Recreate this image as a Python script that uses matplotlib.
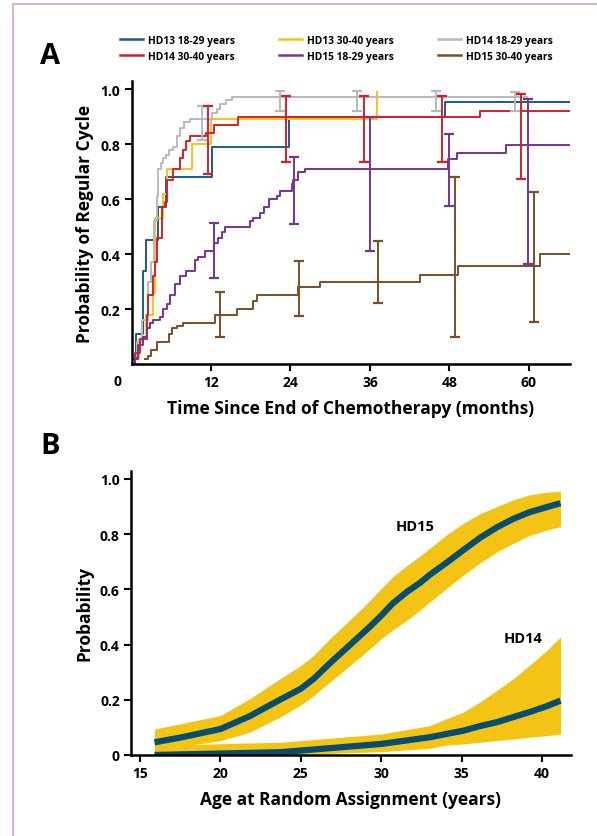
import numpy as np
import matplotlib.pyplot as plt
from matplotlib.patches import Rectangle

plt.rcParams['font.family'] = ['Open Sans', 'DejaVu Sans']
plt.rcParams['font.weight'] = 'bold'

# ---- Panel A: Kaplan-Meier style step curves (months, probability) ----
hd13_young_t = [0, 0.7, 1.7, 2.2, 4.0, 5.2, 12.1, 23.8, 47.4, 66.2]
hd13_young_v = [0.02, 0.11, 0.34, 0.45, 0.57, 0.68, 0.79, 0.90, 0.955, 0.955]

hd13_old_t = [0, 1.2, 2.2, 3.2, 3.5, 4.7, 5.4, 9.1, 12.0, 37.1]
hd13_old_v = [0.02, 0.09, 0.18, 0.26, 0.53, 0.62, 0.71, 0.80, 0.89, 0.99]

hd14_young_t = [0, 0.8, 1.6, 2.5, 3.0, 3.4, 3.8, 4.05, 4.4, 4.8, 5.2, 5.6, 6.3, 6.8,
                7.3, 7.9, 8.8, 12.1, 12.9, 13.4, 14.2, 15.2, 59.7]
hd14_young_v = [0.03, 0.08, 0.16, 0.30, 0.37, 0.52, 0.61, 0.71, 0.73, 0.75, 0.76, 0.78,
                0.79, 0.83, 0.86, 0.88, 0.89, 0.915, 0.93, 0.945, 0.96, 0.972, 0.972]

hd14_old_t = [0, 0.5, 1.3, 2.3, 2.5, 3.2, 3.6, 3.9, 4.6, 5.1, 5.4, 6.3, 7.3, 7.8, 8.2,
              8.8, 11.2, 12.4, 16.1, 52.6, 66.2]
hd14_old_v = [0.02, 0.04, 0.09, 0.18, 0.25, 0.32, 0.37, 0.46, 0.57, 0.59, 0.67, 0.71,
              0.75, 0.78, 0.81, 0.83, 0.84, 0.87, 0.90, 0.92, 0.92]

hd15_young_t = [0, 0.5, 1.0, 1.8, 2.3, 2.8, 3.2, 4.3, 4.8, 5.3, 5.8, 6.6, 7.3, 8.2, 9.6,
                10.1, 11.1, 12.4, 13.1, 13.6, 14.1, 17.9, 18.4, 19.4, 20.0, 20.7, 21.9,
                22.4, 24.2, 24.4, 25.2, 26.2, 47.8, 49.1, 56.6, 66.2]
hd15_young_v = [0.0, 0.02, 0.07, 0.10, 0.13, 0.15, 0.16, 0.17, 0.20, 0.22, 0.25, 0.29,
                0.32, 0.34, 0.38, 0.39, 0.41, 0.44, 0.46, 0.48, 0.50, 0.52, 0.53, 0.55,
                0.57, 0.60, 0.61, 0.63, 0.655, 0.67, 0.70, 0.71, 0.745, 0.767, 0.796, 0.796]

hd15_old_t = [2.0, 2.5, 3.0, 3.8, 5.6, 6.1, 6.8, 7.8, 12.6, 15.9, 18.4, 18.9, 25.2,
              28.5, 43.5, 49.3, 61.7, 66.2]
hd15_old_v = [0.02, 0.03, 0.05, 0.08, 0.11, 0.13, 0.14, 0.15, 0.18, 0.20, 0.23, 0.25,
              0.28, 0.30, 0.325, 0.357, 0.40, 0.40]

# confidence bars (time, lower, upper)
hd14_young_ci_t = [10.6, 22.4, 34.1, 46.0, 57.9]
hd14_young_ci_lo = [0.815, 0.92, 0.92, 0.92, 0.92]
hd14_young_ci_hi = [0.94, 0.993, 0.994, 0.994, 0.99]

hd14_old_ci_t = [11.6, 23.3, 35.1, 46.9, 58.8]
hd14_old_ci_lo = [0.69, 0.736, 0.736, 0.736, 0.673]
hd14_old_ci_hi = [0.94, 0.975, 0.976, 0.976, 0.982]

hd15_young_ci_t = [12.4, 24.5, 36.0, 48.0, 59.8]
hd15_young_ci_lo = [0.312, 0.509, 0.412, 0.576, 0.364]
hd15_young_ci_hi = [0.513, 0.752, 0.90, 0.836, 0.964]

hd15_old_ci_t = [13.4, 25.3, 37.2, 48.8, 60.75]
hd15_old_ci_lo = [0.10, 0.176, 0.222, 0.099, 0.154]
hd15_old_ci_hi = [0.263, 0.375, 0.446, 0.681, 0.627]

# ---- Panel B: probability vs age with confidence band ----
hd15_age = [15.9, 17.5, 20.0, 21.8, 23.7, 25.0, 25.8, 26.8, 27.8, 28.7, 29.3, 30.0,
            30.7, 31.6, 32.4, 33.0, 34.05, 35.1, 36.1, 37.2, 38.2, 39.2, 40.3, 41.15]
hd15_prob = [0.046, 0.063, 0.094, 0.14, 0.20, 0.24, 0.276, 0.332, 0.385, 0.433, 0.465,
             0.505, 0.548, 0.591, 0.623, 0.652, 0.696, 0.742, 0.785, 0.825, 0.855,
             0.879, 0.898, 0.912]
hd15_lo = [0.028, 0.03, 0.052, 0.082, 0.137, 0.181, 0.215, 0.264, 0.312, 0.355, 0.385,
           0.421, 0.452, 0.488, 0.524, 0.553, 0.603, 0.651, 0.694, 0.736, 0.766,
           0.795, 0.815, 0.827]
hd15_hi = [0.094, 0.113, 0.143, 0.203, 0.276, 0.324, 0.361, 0.421, 0.476, 0.525, 0.56,
           0.603, 0.645, 0.686, 0.72, 0.748, 0.797, 0.839, 0.873, 0.90, 0.924,
           0.942, 0.952, 0.956]

hd14_age = [15.9, 23.7, 25.0, 30.0, 33.0, 34.05, 35.1, 36.1, 37.2, 38.2, 39.2, 40.3, 41.15]
hd14_prob = [0.0, 0.01, 0.016, 0.04, 0.064, 0.076, 0.088, 0.104, 0.119, 0.137, 0.155,
             0.177, 0.197]
hd14_lo = [0.0, 0.0, 0.002, 0.012, 0.024, 0.036, 0.04, 0.046, 0.052, 0.058, 0.064,
           0.07, 0.076]
hd14_hi = [0.035, 0.046, 0.052, 0.076, 0.106, 0.131, 0.155, 0.191, 0.234, 0.276, 0.324,
           0.379, 0.428]

blue = '#175d85'
yellow = '#f4c414'
grey = '#b9b9b9'
red = '#d71f2b'
purple = '#783493'
brown = '#7c4e24'

fig = plt.figure(figsize=(5.97, 8.37), dpi=100)

# light purple frame
fig.patches.append(Rectangle((13 / 597, -0.05), 1.2, 1 - 5 / 837 + 0.05,
                             transform=fig.transFigure, fill=False,
                             edgecolor='#cda6d2', linewidth=1.2))

axA = fig.add_axes([0.2203, 0.5639, 0.7345, 0.3381])

series = [
    ('HD13 18-29 years', hd13_young_t, hd13_young_v, blue),
    ('HD13 30-40 years', hd13_old_t, hd13_old_v, yellow),
    ('HD14 18-29 years', hd14_young_t, hd14_young_v, grey),
    ('HD14 30-40 years', hd14_old_t, hd14_old_v, red),
    ('HD15 18-29 years', hd15_young_t, hd15_young_v, purple),
    ('HD15 30-40 years', hd15_old_t, hd15_old_v, brown),
]
handles = {}
for name, t, v, c in series:
    h, = axA.step(t, v, where='post', color=c, lw=1.4, label=name)
    handles[name] = h

cis = [
    (hd14_young_ci_t, hd14_young_ci_lo, hd14_young_ci_hi, grey),
    (hd14_old_ci_t, hd14_old_ci_lo, hd14_old_ci_hi, red),
    (hd15_young_ci_t, hd15_young_ci_lo, hd15_young_ci_hi, purple),
    (hd15_old_ci_t, hd15_old_ci_lo, hd15_old_ci_hi, brown),
]
for t, lo, hi, c in cis:
    lo = np.array(lo)
    hi = np.array(hi)
    mid = (lo + hi) / 2
    axA.errorbar(t, mid, yerr=[mid - lo, hi - mid], fmt='none', ecolor=c,
                 elinewidth=1.4, capsize=3.6, capthick=1.6)

axA.set_xlim(0, 66.2)
axA.set_ylim(0, 1.03)
axA.set_xticks([12, 24, 36, 48, 60])
axA.set_yticks([0.2, 0.4, 0.6, 0.8, 1.0])
axA.set_yticklabels(['0.2', '0.4', '0.6', '0.8', '1.0'])
axA.text(-0.033, -0.06, '0', transform=axA.transAxes, ha='center', va='center',
         fontsize=10, fontweight='bold')
axA.set_xlabel('Time Since End of Chemotherapy (months)', fontsize=12.5,
               fontweight='bold', labelpad=7)
axA.set_ylabel('Probability of Regular Cycle', fontsize=12.5, fontweight='bold',
               labelpad=5)

order = ['HD13 18-29 years', 'HD14 30-40 years', 'HD13 30-40 years',
         'HD15 18-29 years', 'HD14 18-29 years', 'HD15 30-40 years']
leg = fig.legend([handles[n] for n in order], order, ncol=3, frameon=False,
                 loc='center left', bbox_to_anchor=(0.186, 0.941),
                 fontsize=7.4, handlelength=2.2, columnspacing=4.3,
                 labelspacing=0.5, handletextpad=0.5)
for line in leg.get_lines():
    line.set_linewidth(1.8)

axB = fig.add_axes([0.2194, 0.0968, 0.737, 0.3397])
axB.fill_between(hd15_age, hd15_lo, hd15_hi, color=yellow, lw=0)
axB.fill_between(hd14_age, hd14_lo, hd14_hi, color=yellow, lw=0)
axB.plot(hd15_age, hd15_prob, color='#064d72', lw=4.5, solid_capstyle='butt',
         solid_joinstyle='round')
axB.plot(hd14_age, hd14_prob, color='#064d72', lw=4.5, solid_capstyle='butt',
         solid_joinstyle='round')
axB.text(32.1, 0.83, 'HD15', ha='center', va='center', fontsize=10.5, fontweight='bold')
axB.text(38.85, 0.425, 'HD14', ha='center', va='center', fontsize=10.5, fontweight='bold')
axB.set_xlim(14.44, 41.8)
axB.set_ylim(0, 1.03)
axB.set_xticks([15, 20, 25, 30, 35, 40])
axB.set_yticks([0, 0.2, 0.4, 0.6, 0.8, 1.0])
axB.set_yticklabels(['0', '0.2', '0.4', '0.6', '0.8', '1.0'])
axB.set_xlabel('Age at Random Assignment (years)', fontsize=12.5,
               fontweight='bold', labelpad=7)
axB.set_ylabel('Probability', fontsize=12.5, fontweight='bold', labelpad=5)

for ax in (axA, axB):
    for s in ('top', 'right'):
        ax.spines[s].set_visible(False)
    for s in ('left', 'bottom'):
        ax.spines[s].set_linewidth(1.8)
    ax.tick_params(direction='out', length=5, width=1.5, labelsize=10, pad=3)
    for lab in ax.get_xticklabels() + ax.get_yticklabels():
        lab.set_fontweight('bold')

fig.text(50 / 597, 1 - 57 / 837, 'A', fontsize=21, fontweight='bold',
         ha='center', va='center')
fig.text(50 / 597, 1 - 447 / 837, 'B', fontsize=21, fontweight='bold',
         ha='center', va='center')

fig.savefig('out.png', dpi=100)
